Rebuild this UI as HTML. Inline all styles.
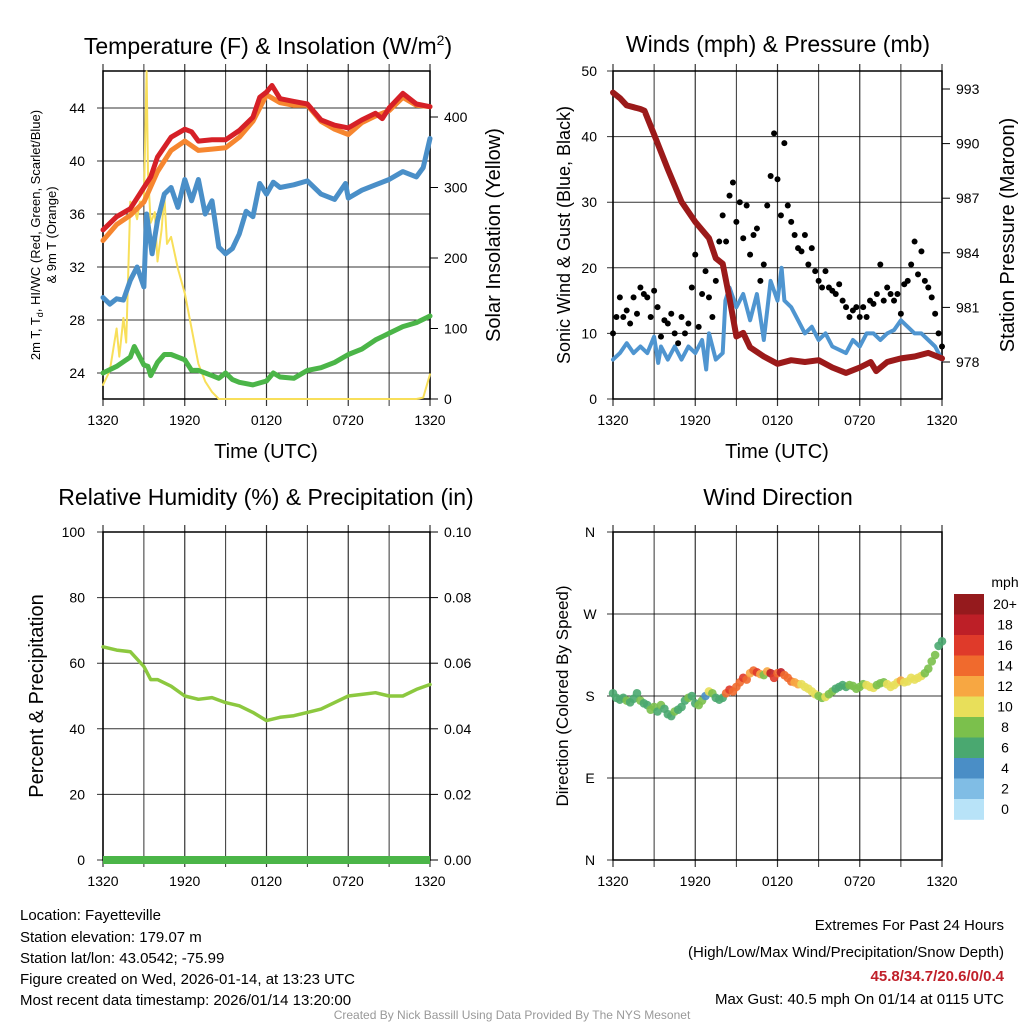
<!DOCTYPE html>
<html><head><meta charset="utf-8"><style>
body{margin:0;background:#fff;}
svg text{font-family:"Liberation Sans",sans-serif;fill:#000;}
</style></head><body>
<svg id="s" width="1024" height="1024" viewBox="0 0 1024 1024" xmlns="http://www.w3.org/2000/svg">
<g id="g"></g>
<text x="268" y="54" font-size="23" text-anchor="middle">Temperature (F) &amp; Insolation (W/m<tspan font-size="14" dy="-9">2</tspan><tspan dy="9">)</tspan></text>
<text x="778" y="52" font-size="23" text-anchor="middle">Winds (mph) &amp; Pressure (mb)</text>
<text x="266" y="505" font-size="23" text-anchor="middle">Relative Humidity (%) &amp; Precipitation (in)</text>
<text x="778" y="505" font-size="23" text-anchor="middle">Wind Direction</text>
<text transform="translate(40,235) rotate(-90)" font-size="13" text-anchor="middle">2m T, T<tspan font-size="9" dy="3">d</tspan><tspan dy="-3">, HI/WC (Red, Green, Scarlet/Blue)</tspan></text>
<text transform="translate(56,235) rotate(-90)" font-size="13" text-anchor="middle">&amp; 9m T (Orange)</text>
<text transform="translate(500,235) rotate(-90)" font-size="20" text-anchor="middle">Solar Insolation (Yellow)</text>
<text x="266" y="458" font-size="20" text-anchor="middle">Time (UTC)</text>
<text x="777" y="458" font-size="20" text-anchor="middle">Time (UTC)</text>
<text transform="translate(570,235) rotate(-90)" font-size="18" text-anchor="middle">Sonic Wind &amp; Gust (Blue, Black)</text>
<text transform="translate(1014,235) rotate(-90)" font-size="20" text-anchor="middle">Station Pressure (Maroon)</text>
<text transform="translate(43,696) rotate(-90)" font-size="20" text-anchor="middle">Percent &amp; Precipitation</text>
<text transform="translate(568,696) rotate(-90)" font-size="17" text-anchor="middle">Direction (Colored By Speed)</text>
<text x="1005" y="587" font-size="14" text-anchor="middle">mph</text>
<g font-size="15">
<text x="20" y="920">Location: Fayetteville</text>
<text x="20" y="942">Station elevation: 179.07 m</text>
<text x="20" y="963">Station lat/lon: 43.0542; -75.99</text>
<text x="20" y="984">Figure created on Wed, 2026-01-14, at 13:23 UTC</text>
<text x="20" y="1005">Most recent data timestamp: 2026/01/14 13:20:00</text>
</g>
<g font-size="15" text-anchor="end">
<text x="1004" y="930">Extremes For Past 24 Hours</text>
<text x="1004" y="957">(High/Low/Max Wind/Precipitation/Snow Depth)</text>
<text x="1004" y="981" font-weight="bold" style="fill:#c0202a">45.8/34.7/20.6/0/0.4</text>
<text x="1004" y="1004">Max Gust: 40.5 mph On 01/14 at 0115 UTC</text>
</g>
<text x="512" y="1019" font-size="12" text-anchor="middle" style="fill:#999">Created By Nick Bassill Using Data Provided By The NYS Mesonet</text>
</svg>
<script>
// ---- data ----
const timeLabels=["1320","1920","0120","0720","1320"];
const tRedH=[0,1,2,3,3.5,4,5,6,6.5,7,8,9,10,11,11.5,12,12.4,13,14,15,16,17,18,19,20,20.5,21,22,23,24];
const tRed=[34.8,35.8,36.4,38,38.8,40.3,41.8,42.4,42.2,41.5,41.6,41.6,42.3,43.3,44.8,45.2,45.7,44.7,44.5,44.3,43.1,42.7,42.5,43.1,43.6,43.2,44,45.1,44.3,44.1];
const tOrgH=[0,1,2,3,4,5,6,7,8,9,10,11,12,13,14,15,16,17,18,19,20,21,22,23,24];
const tOrg=[34,35.2,35.9,36.9,39.2,40.8,41.5,40.8,40.9,41,41.8,43,45,44.4,44.2,44.2,43,42.4,42,42.9,43.4,43.8,44.8,44.2,44.1];
const tBluH=[0,0.5,1,1.5,2,2.5,3,3.2,3.6,4,4.5,5,5.5,6,6.5,7,7.5,8,8.5,9,9.5,10,10.5,11,11.5,12,12.5,13,14,15,16,17,17.8,18,19,20,21,22,23,23.5,24];
const tBlu=[29.7,29.2,29.6,29.5,31,32,30.5,36,33,35.5,37.5,38,36.5,38.6,37,38.6,36,37,33.5,33,33.4,34.5,36.2,35.8,38.3,37.5,38.4,38,38.2,38.5,37.5,37.1,38.3,37.2,37.8,38.2,38.6,39.2,38.8,39.5,41.7];
const tGrnH=[0,1,2,2.3,3,3.3,3.5,4,4.5,5,6,6.5,7,8,8.5,9,9.5,10,11,12,12.5,13,14,15,16,17,18,19,20,21,22,23,24];
const tGrn=[24,24.5,25.2,26,24.6,24.5,23.8,24.8,25.4,25.4,25,24.2,24.2,23.8,23.6,24,23.5,23.3,23.1,23.4,24,23.7,23.6,24.2,24.4,24.8,25.4,25.8,26.5,27,27.5,27.8,28.3];
const solH=[0,0.5,1,1.2,1.5,1.7,2,2.3,2.5,2.7,3,3.2,3.3,3.5,3.8,4,4.3,4.5,4.7,5,5.5,6,6.5,7,7.5,8,8.5,23,23.5,24];
const sol=[20,40,100,60,115,80,280,270,255,280,280,465,320,250,265,195,240,290,220,230,185,150,100,50,25,10,0,0,2,35];
const presH=[0,0.5,1,1.5,2,2.3,3,4,5,6,7,7.5,8,8.5,9,9.5,10,11,12,13,14,15,16,17,18,18.8,19.2,20,21,22,23,24];
const pres=[992.8,992.5,992.1,992,991.9,991.8,990.5,988.6,986.8,985.7,984.8,983.7,983.4,981.5,979.4,979.6,978.8,978.3,977.9,978.1,978,978.1,977.7,977.4,977.7,978,977.5,978,978.2,978.3,978.5,978.2];
const windH=[0,0.5,1,1.5,2,2.5,3,3.3,3.5,4,4.5,5,5.5,6,6.5,6.8,7,7.5,8,8.2,8.5,9,9.5,10,10.5,11,11.5,12,12.3,12.5,13,13.5,14,14.5,15,15.5,16,17,17.5,18,18.5,19,19.5,20,20.5,21,21.5,22,22.5,23,23.5,24];
const wind=[6,7,8.5,7,8,7,9.5,5.5,8,6,8,6,8,7,9,4.5,10,6,7,15,17,14,16,12,16,9,18,15,20,15,14,12,10,11,9,10,8,7,9,8,10,10,9,10,10.5,12,11,10,10,9,8,6];
const gust=[10,12.5,15.5,12.5,13.5,11.5,15.5,13, 17,16,15.5,12.5,16.5,14,9.5,12, 11.5,13,10,8.5,12.5,10,11.5,17, 22,11,16,19.5,15.5,12.5,18,24, 28,24,31,33,27,30,24.5,29.5, 22,25,26,18,20.5,29.5,34,40.5, 33.5,28,39,29.5,27,25,23,22.5, 25,20.5,23,19.5,18,17,19.5,17, 16.5,16,17.5,15,14,12.5,13.5,14, 12.5,14,12.5,15,14.5,16,20.5,15, 17,16,15,16,13,17.5,18,20.5, 24,19,22.5,18,17,15.5,13,10,8];
const dirDeg=[183,178,176,178,175,173,177,183, 175,172,170,165,168,163,170,166, 160,158,163,165,168,175,178,180, 172,170,175,180,185,183,178,176, 178,183,187,185,190,195,200,198, 205,208,206,204,203,207,205,200, 205,206,203,200,196,195,193,193, 190,188,185,182,180,178,179,182, 185,188,190,192,190,192,191,188, 190,193,192,190,189,192,194,195, 193,190,192,195,197,195,196,200, 198,200,202,205,210,218,225,235,240];
const rhH=[0,1,2,3,3.5,4,5,6,7,8,9,10,11,12,13,14,15,16,17,18,19,20,21,22,23,24];
const rh=[65,64,63.5,59,55,55,53,50,49,49.5,48,47,45,42.5,43.5,44,45,46,48,50,50.5,51,50,50,52,53.5];
const cbLabels=["20+","18","16","14","12","10","8","6","4","2","0"];
const cbColors=["#951a1d","#bd1f27","#df3a2a","#f06a2d","#f7a742","#e8df5a","#7bc04c","#4aa870","#4a8ec6","#80bde5","#b8e3f8"];
// ---- helpers ----
const NS="http://www.w3.org/2000/svg",G=document.getElementById('g');
function mk(t,a,p){const e=document.createElementNS(NS,t);for(const k in a)e.setAttribute(k,a[k]);(p||G).appendChild(e);return e;}
function interp(hs,vs,h){for(let i=1;i<hs.length;i++){if(h<=hs[i]){const f=(h-hs[i-1])/(hs[i]-hs[i-1]);return vs[i-1]+f*(vs[i]-vs[i-1]);}}return vs[vs.length-1];}
function panel(x0,x1,y0,y1,name){
  const r=mk('rect',{x:x0,y:y0,width:x1-x0,height:y1-y0,fill:'none',stroke:'#000','stroke-width':1.5});
  
  
  for(let i=0;i<=8;i++){const x=x0+(x1-x0)*i/8;
    const l=mk('line',{x1:x,x2:x,y1:y0-7,y2:y1+7,stroke:'#000','stroke-width':i%2?1:1.2,'stroke-opacity':0.8});
    
    
    if(i%2==0){const t=mk('text',{x:x,y:y1+26,'font-size':14,'text-anchor':'middle'});t.textContent=timeLabels[i/2];
      
      }
  }
  return {hx:h=>x0+(x1-x0)*h/24};
}
function hgrid(x0,x1,y,lab,name,lx,anchor){
  const l=mk('line',{x1:x0-6,x2:x1,y1:y,y2:y,stroke:'#000','stroke-width':1,'stroke-opacity':0.8});
  
  
  if(lab!==null){const t=mk('text',{x:lx,y:y+5,'font-size':14,'text-anchor':anchor});t.textContent=lab;
    
    }
}
function rtick(x,y,lab,name){
  mk('line',{x1:x,x2:x+8,y1:y,y2:y,stroke:'#000'});
  const t=mk('text',{x:x+14,y:y+5,'font-size':14});t.textContent=lab;
  
  
}
function line(hs,vs,hx,vy,col,w,name){
  const d=hs.map((h,i)=>(i?'L':'M')+hx(h).toFixed(1)+','+vy(vs[i]).toFixed(1)).join('');
  const p=mk('path',{d:d,fill:'none',stroke:col,'stroke-width':w,'stroke-linejoin':'round','stroke-linecap':'round'});
  
  
}
// ---- panel 1: temperature ----
{const P=panel(103,430,71,399,'temp');const vy=v=>108+(44-v)*13.25;const sy=v=>399-v*0.705;
 [24,28,32,36,40,44].forEach(v=>hgrid(103,430,vy(v),String(v),'temp',85,'end'));
 [0,100,200,300,400].forEach(v=>rtick(430,sy(v),String(v),'insolation'));
 line(solH,sol,P.hx,sy,'#f8df5a',2,'insolation-line');
 line(tGrnH,tGrn,P.hx,vy,'#4bb548',5,'dewpoint-line');
 line(tBluH,tBlu,P.hx,vy,'#4a8fc8',5,'windchill-line');
 line(tOrgH,tOrg,P.hx,vy,'#f6862f',5,'temp-9m-line');
 line(tRedH,tRed,P.hx,vy,'#d62027',5,'temp-2m-line');}
// ---- panel 2: winds ----
{const P=panel(613,942,71,399,'wind');const vy=v=>399-v*6.56;const py=v=>362-(v-978)*18.2;
 [0,10,20,30,40,50].forEach(v=>hgrid(613,942,vy(v),String(v),'wind',597,'end'));
 [978,981,984,987,990,993].forEach(v=>rtick(942,py(v),String(v),'pressure'));
 line(windH,wind,P.hx,vy,'#4f95d0',4,'wind-speed-line');
 gust.forEach((g,i)=>{const c=mk('circle',{cx:P.hx(i*24/(gust.length-1)),cy:vy(g),r:3,fill:'#000'});
   
   });
 line(presH,pres,P.hx,py,'#9b1a1a',6,'pressure-line');}
// ---- panel 3: RH ----
{const P=panel(103,430,532,860,'rh');const vy=v=>860-v*3.28;
 [0,20,40,60,80,100].forEach(v=>hgrid(103,430,vy(v),String(v),'rh',85,'end'));
 ["0.00","0.02","0.04","0.06","0.08","0.10"].forEach((v,i)=>rtick(430,vy(i*20),v,'precip'));
 line(rhH,rh,P.hx,vy,'#8cc83f',3.5,'rh-line');
 const pl=mk('rect',{x:103,y:856,width:327,height:8,fill:'#4bb548'});
 
 }
// ---- panel 4: direction ----
{const P=panel(613,942,532,860,'dir');const vy=d=>860-d*(328/360);
 ["N","E","S","W","N"].forEach((l,i)=>hgrid(613,942,vy(i*90),l,'dir',590,'middle'));
 dirDeg.forEach((d,i)=>{const h=i*24/(dirDeg.length-1);const s=interp(windH,wind,h);const k=Math.min(10,Math.floor(s/2));
   const c=mk('circle',{cx:P.hx(h),cy:vy(d),r:4.3,fill:cbColors[10-k],'fill-opacity':0.9});
   
   });
 cbLabels.forEach((l,i)=>{const y=594+i*20.5;
   const r=mk('rect',{x:954,y:y,width:30,height:20.8,fill:cbColors[i]});
   
   
   const t=mk('text',{x:1005,y:y+15,'font-size':14,'text-anchor':'middle'});t.textContent=l;
   
   });}
</script>
</body></html>
